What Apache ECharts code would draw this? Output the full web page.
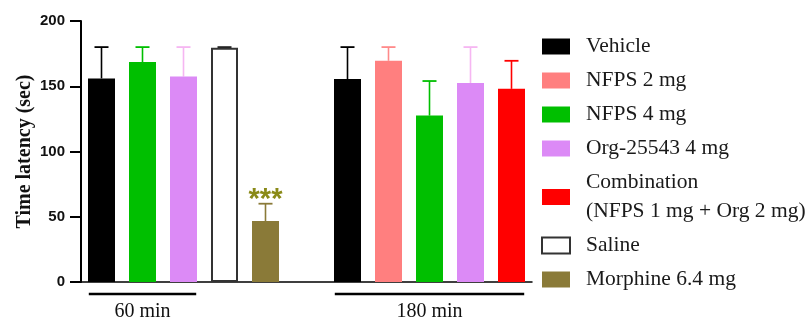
<!DOCTYPE html>
<html>
<head>
<meta charset="utf-8">
<script src="https://cdn.jsdelivr.net/npm/echarts@6/dist/echarts.min.js"></script>
<style>html,body{margin:0;padding:0;background:#fff}#c{width:810px;height:321px}</style>
</head>
<body>
<div id="c"></div>
<script>
// ---- data ----
const slots = ['Vehicle 60', 'NFPS 4 mg 60', 'Org 60', 'Saline 60', 'Morphine 60', '', 'Vehicle 180', 'NFPS 2 mg 180', 'NFPS 4 mg 180', 'Org 180', 'Combination 180'];
const means = [156, 168.5, 157.5, 179.5, 46.7, null, 155.5, 169.5, 127.5, 152.5, 148];
const errTop = [180, 180, 180, 180, 60, null, 180, 180, 154, 180, 169.5];
const slotGroup = [0, 2, 3, 5, 6, null, 0, 1, 2, 3, 4];
const signif = ['', '', '', '', '***', '', '', '', '', '', ''];
const groupNames = ['Vehicle', 'NFPS 2 mg', 'NFPS 4 mg', 'Org-25543 4 mg', 'Combination\n(NFPS 1 mg + Org 2 mg)', 'Saline', 'Morphine 6.4 mg'];
const timeGroups = [['60 min', 0, 2], ['180 min', 6, 10]];
const yTicks = [0, 50, 100, 150, 200];

// ---- styles ----
const fillColors = ['#000000', '#ff7f7f', '#00bf00', '#dc8af6', '#ff0000', '#ffffff', '#8a7a38'];
const errColors = ['#000000', '#ff8a8a', '#00bf00', '#f6b6f2', '#ff0000', '#222222', '#8a7a38'];
const sigColor = '#8a8a18';
const serif = '"Liberation Serif", "Times New Roman", serif';

const chart = echarts.init(document.getElementById('c'), null, {renderer: 'canvas'});

const barSeries = groupNames.map((name, g) => ({
  name: name,
  type: 'bar',
  stack: 'all',
  barWidth: 27,
  itemStyle: g === 5 ? {color: '#ffffff', borderColor: '#333333', borderWidth: 2}
                     : {color: fillColors[g]},
  emphasis: {disabled: true},
  data: slots.map((s, i) => slotGroup[i] === g ? means[i] : null)
}));

const errData = slots.map((s, i) => means[i] == null ? null : [i, means[i], errTop[i]]).filter(d => d);

const errSeries = {
  type: 'custom',
  silent: true,
  clip: false,
  encode: {x: 0, y: [1, 2]},
  data: errData,
  z: 1,
  renderItem: function (params, api) {
    const i = api.value(0);
    const b = api.coord([i, api.value(1)]);
    const t = api.coord([i, api.value(2)]);
    const col = errColors[slotGroup[i]];
    const hw = 7;
    const children = [
      {type: 'line', shape: {x1: b[0], y1: b[1], x2: t[0], y2: t[1]}, style: {stroke: col, lineWidth: 1.6}},
      {type: 'line', shape: {x1: t[0] - hw, y1: t[1], x2: t[0] + hw, y2: t[1]}, style: {stroke: col, lineWidth: 1.8}}
    ];
    if (signif[i]) {
      children.push({type: 'text', style: {text: signif[i], x: t[0], y: t[1] + 11, align: 'center', verticalAlign: 'bottom',
        fill: sigColor, font: 'bold 29px "Liberation Sans", Arial, sans-serif'}});
    }
    return {type: 'group', children: children};
  }
};

const bracketSeries = {
  type: 'custom',
  silent: true,
  clip: false,
  encode: {x: [1, 2], y: 3},
  data: timeGroups.map(g => [g[0], g[1], g[2], 0]),
  renderItem: function (params, api) {
    const p0 = api.coord([api.value(1), 0]);
    const p1 = api.coord([api.value(2), 0]);
    const hb = api.size([1, 0])[0] * 0.31;
    const y = p0[1] + 12;
    const label = timeGroups[params.dataIndex][0];
    return {type: 'group', children: [
      {type: 'line', shape: {x1: p0[0] - hb, y1: y, x2: p1[0] + hb, y2: y}, style: {stroke: '#000', lineWidth: 2.6}},
      {type: 'text', style: {text: label, x: (p0[0] + p1[0]) / 2, y: y + 8, align: 'center', verticalAlign: 'top',
        fill: '#111', font: '20px ' + serif}}
    ]};
  }
};

chart.setOption({
  animation: false,
  grid: {left: 81, top: 21, width: 451, height: 261, containLabel: false},
  legend: {
    orient: 'vertical',
    left: 541,
    top: 32,
    padding: 0,
    itemWidth: 28,
    itemHeight: 16,
    itemGap: 5,
    icon: 'rect',
    selectedMode: false,
    data: groupNames,
    textStyle: {fontFamily: serif, fontSize: 21.5, lineHeight: 29, color: '#1a1a1a', padding: [0, 0, 0, 11]}
  },
  xAxis: {
    type: 'category',
    data: slots,
    axisLine: {show: true, lineStyle: {color: '#000', width: 1.5}},
    axisTick: {show: false},
    axisLabel: {show: false},
    splitLine: {show: false}
  },
  yAxis: {
    type: 'value',
    min: yTicks[0],
    max: yTicks[yTicks.length - 1],
    interval: yTicks[1] - yTicks[0],
    name: 'Time latency (sec)',
    nameLocation: 'middle',
    nameGap: 46,
    nameMoveOverlap: false,
    nameTextStyle: {fontFamily: serif, fontWeight: 'bold', fontSize: 20, color: '#111'},
    axisLine: {show: true, lineStyle: {color: '#000', width: 2}},
    axisTick: {show: true, length: 11, lineStyle: {color: '#000', width: 2}},
    axisLabel: {margin: 16, fontFamily: '"Liberation Sans", Arial, sans-serif', fontWeight: 'bold', fontSize: 15, color: '#111'},
    splitLine: {show: false}
  },
  series: barSeries.concat([errSeries, bracketSeries])
});
</script>
</body>
</html>
